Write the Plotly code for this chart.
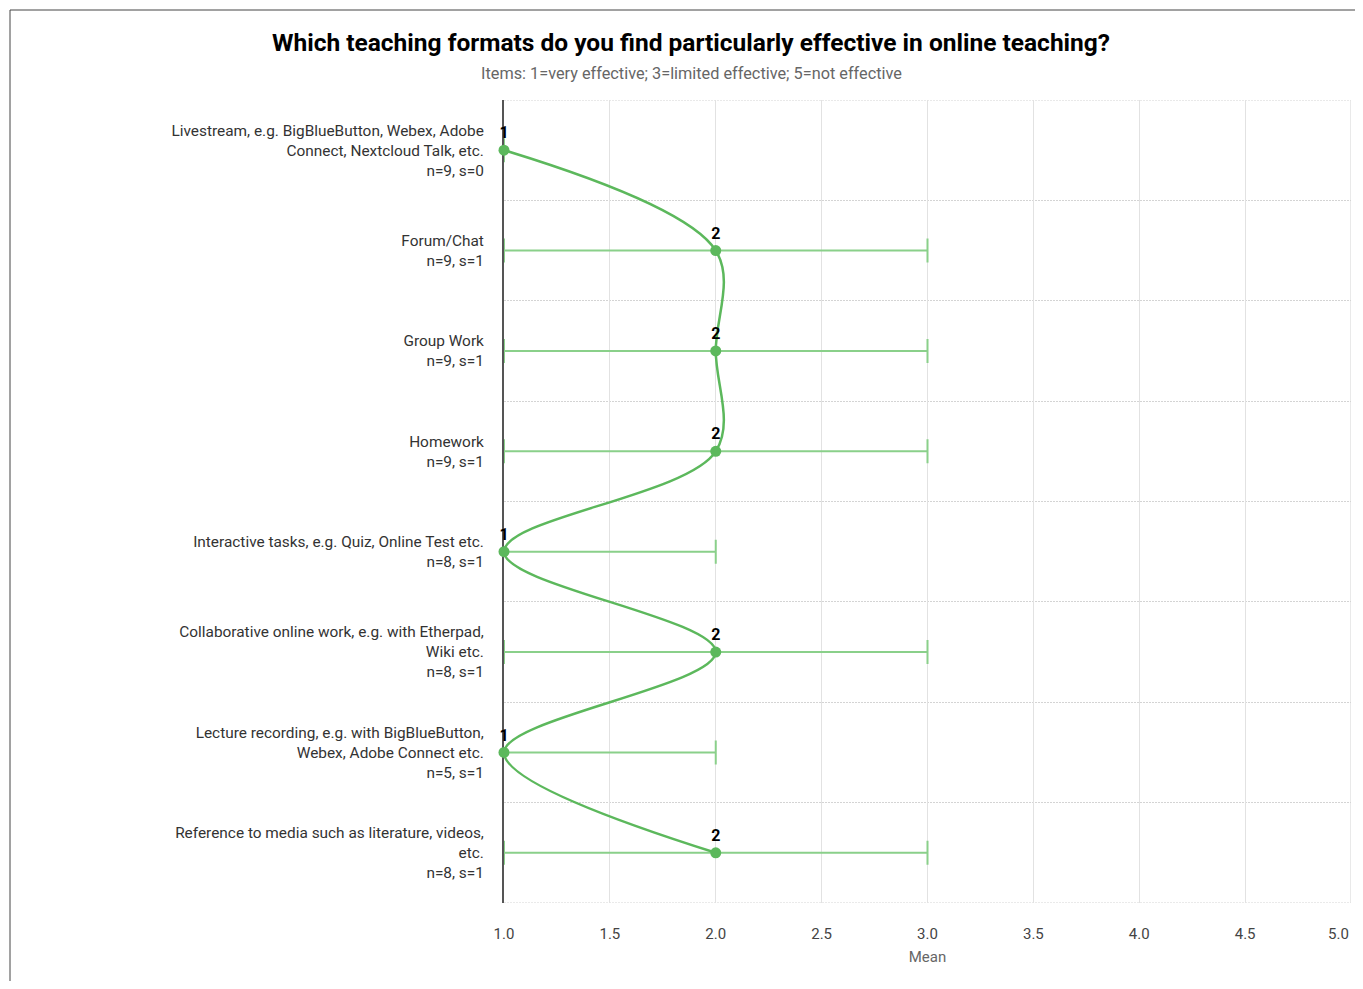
"""
Mean rating per teaching format, with +/- standard deviation bars
"""
import plotly.graph_objects as go

# Survey data
formats = [
    "Livestream, e.g. BigBlueButton, Webex, Adobe<br>Connect, Nextcloud Talk, etc.",
    "Forum/Chat",
    "Group Work",
    "Homework",
    "Interactive tasks, e.g. Quiz, Online Test etc.",
    "Collaborative online work, e.g. with Etherpad,<br>Wiki etc.",
    "Lecture recording, e.g. with BigBlueButton,<br>Webex, Adobe Connect etc.",
    "Reference to media such as literature, videos,<br>etc.",
]
n_vals = [9, 9, 9, 9, 8, 8, 5, 8]
s_vals = [0, 1, 1, 1, 1, 1, 1, 1]
means = [1, 2, 2, 2, 1, 2, 1, 2]
x_ticks = [1.0, 1.5, 2.0, 2.5, 3.0, 3.5, 4.0, 4.5, 5.0]

GREEN = '#5cb85c'
ERR_GREEN = '#8ad08a'
GRID = '#e2e2e2'
DOT_GRID = '#d4d4d4'
FONT = 'Roboto, "Open Sans", sans-serif'
DOTS = '2px,1px'

# Figure size (page body adds an 8px margin) and plot area in pixels
FIG_W, FIG_H = 1355, 973
L, R, T, B = 496, 12, 92, 78
W = FIG_W - L - R
H = FIG_H - T - B


def px_x(px):
    return (px - L) / W


def px_y(px):
    return (FIG_H - B - px) / H


positions = list(range(len(formats)))
labels = [f"{f}<br>n={n}, s={s}" for f, n, s in zip(formats, n_vals, s_vals)]

# last tick label is drawn separately, right-aligned so it stays on the page
x_ticktext = [f"{v:.1f}" for v in x_ticks]
last_tick = x_ticktext[-1]
x_ticktext[-1] = ""

fig = go.Figure()

fig.add_trace(go.Scatter(
    x=means,
    y=positions,
    mode='lines+markers+text',
    line=dict(color=GREEN, width=2.5, shape='spline', smoothing=1.0),
    marker=dict(color=GREEN, size=11),
    text=[str(m) for m in means],
    textposition='top center',
    textfont=dict(family=FONT, size=16, color='#000000', weight='bold'),
    error_x=dict(
        type='data',
        array=[s if s > 0 else None for s in s_vals],
        symmetric=True,
        color=ERR_GREEN,
        thickness=2,
        width=12,
    ),
    cliponaxis=False,
    showlegend=False,
    hoverinfo='skip',
))

# Outer frame of the chart card
fig.add_shape(
    type='rect', xref='paper', yref='paper',
    x0=px_x(2), x1=1.2,
    y0=-0.3, y1=px_y(2),
    line=dict(color='#444444', width=1),
    layer='below',
)

# Grid lines at the range edges (plotly drops them)
for yb in [-0.5, len(formats) - 0.5]:
    fig.add_shape(
        type='line', xref='paper', yref='y',
        x0=0, x1=1, y0=yb, y1=yb,
        line=dict(color=DOT_GRID, width=1, dash=DOTS),
        layer='below',
    )
fig.add_shape(
    type='line', xref='x', yref='paper',
    x0=x_ticks[-1], x1=x_ticks[-1], y0=0, y1=1,
    line=dict(color=GRID, width=1.5),
    layer='below',
)

fig.add_annotation(
    text=last_tick,
    xref='x', yref='paper',
    x=x_ticks[-1], y=px_y(926),
    xanchor='right', yanchor='middle', showarrow=False,
    font=dict(family=FONT, size=15, color='#444444'),
)

fig.add_annotation(
    text='<b>Which teaching formats do you find particularly effective in online teaching?</b>',
    xref='paper', yref='paper',
    x=px_x(683), y=px_y(35),
    xanchor='center', yanchor='middle', showarrow=False,
    font=dict(family=FONT, size=24.5, color='#000000'),
)
fig.add_annotation(
    text='Items: 1=very effective; 3=limited effective; 5=not effective',
    xref='paper', yref='paper',
    x=px_x(683), y=px_y(65),
    xanchor='center', yanchor='middle', showarrow=False,
    font=dict(family=FONT, size=16.3, color='#666666'),
)

fig.update_layout(
    width=FIG_W,
    height=FIG_H,
    margin=dict(l=L, r=R, t=T, b=B, autoexpand=False),
    plot_bgcolor='white',
    paper_bgcolor='white',
    font=dict(family=FONT, color='#333333'),
    xaxis=dict(
        range=[1, 5],
        tickvals=x_ticks,
        ticktext=x_ticktext,
        tickfont=dict(size=15, color='#444444'),
        showgrid=True,
        gridcolor=GRID,
        gridwidth=1,
        zeroline=False,
        ticklabelstandoff=20,
        title=dict(text='Mean', font=dict(size=15, color='#666666'), standoff=9),
    ),
    yaxis=dict(
        range=[len(formats) - 0.5, -0.5],
        tickvals=positions,
        ticktext=labels,
        tickfont=dict(size=15.4, color='#333333'),
        showgrid=False,
        zeroline=False,
        showline=True,
        linecolor='#555555',
        linewidth=2,
        layer='below traces',
        ticklabelstandoff=15,
        minor=dict(
            tickvals=[p - 0.5 for p in positions] + [len(formats) - 0.5],
            showgrid=True,
            gridcolor=DOT_GRID,
            griddash=DOTS,
            gridwidth=1,
        ),
    ),
)

fig.write_html("out.html")
